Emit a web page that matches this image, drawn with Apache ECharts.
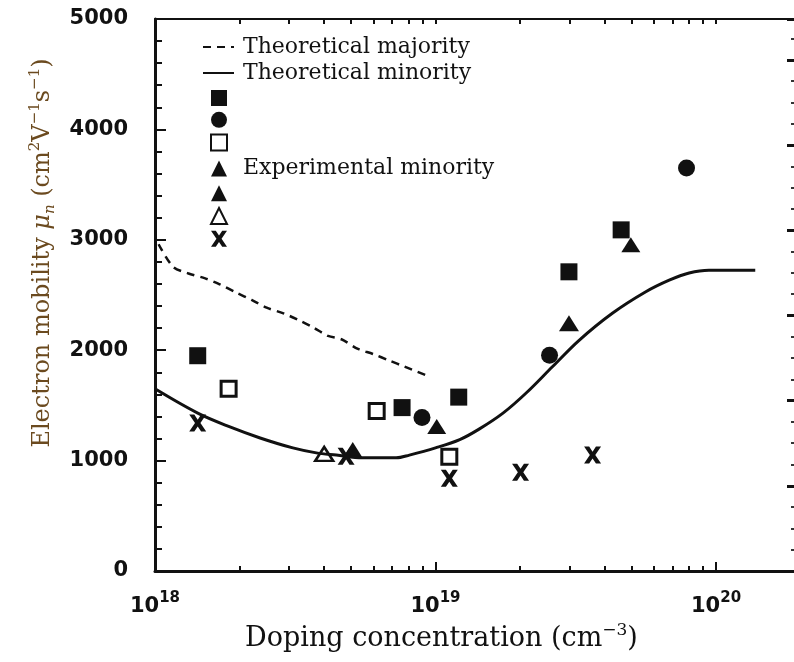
<!DOCTYPE html>
<html><head><meta charset="utf-8">
<script src="https://cdn.jsdelivr.net/npm/echarts@6/dist/echarts.min.js"></script>
<style>html,body{margin:0;padding:0;background:#fff}#c{width:794px;height:662px}</style>
</head><body><div id="c"></div>
<script>
// ---------- data (concentration in cm^-3, mobility in cm^2/Vs) ----------
const xTickExponents = [18, 19, 20];
const yTickLabels = [0, 1000, 2000, 3000, 4000, 5000];

const majorityConc = [1.03e18, 1.16e18, 1.31e18, 1.51e18, 1.70e18, 1.95e18, 2.21e18, 2.50e18, 2.87e18, 3.24e18, 3.66e18, 4.14e18, 4.62e18, 5.29e18, 5.98e18, 6.86e18, 7.76e18, 9.2e18];
const majorityMob  = [2960, 2755, 2697, 2651, 2597, 2521, 2455, 2385, 2334, 2274, 2207, 2129, 2099, 2011, 1966, 1905, 1851, 1775];

const minorityConc = [1.0e18, 1.42e18, 1.85e18, 2.37e18, 3.1e18, 3.76e18, 4.43e18, 5.49e18, 7.24e18, 8.07e18, 1.0e19, 1.22e19, 1.43e19, 1.74e19, 2.1e19, 2.61e19, 3.25e19, 4.27e19, 5.62e19, 6.81e19, 8.02e19, 9.44e19, 1.38e20];
const minorityMob  = [1650, 1430, 1305, 1205, 1115, 1070, 1050, 1025, 1025, 1050, 1115, 1190, 1285, 1430, 1610, 1850, 2090, 2335, 2530, 2635, 2700, 2725, 2725];

const sqFilledConc = [1.42e18, 7.6e18, 1.21e19, 2.99e19, 4.59e19];
const sqFilledMob  = [1950, 1480, 1575, 2710, 3090];
const circleConc   = [8.95e18, 2.55e19, 7.85e19];
const circleMob    = [1390, 1955, 3650];
const sqOpenConc   = [1.83e18, 6.17e18, 1.12e19];
const sqOpenMob    = [1650, 1450, 1035];
const triAConc     = [5.07e18, 2.99e19];
const triAMob      = [1095, 2245];
const triBConc     = [1.01e19, 4.97e19];
const triBMob      = [1310, 2955];
const triOpenConc  = [4.01e18];
const triOpenMob   = [1060];
const crossConc    = [1.42e18, 4.8e18, 1.12e19, 2.01e19, 3.63e19];
const crossMob     = [1340, 1040, 840, 895, 1050];

// ---------- helpers ----------
const L = v => Math.log10(v);
const pts = (xs, ys) => xs.map((x, i) => [L(x), ys[i]]);
const XMIN = 18, XMAX = 20.278;
const minorTickVals = [], allTickVals = [];
xTickExponents.forEach(n => {
  for (let k = 1; k <= 9; k++) {
    const v = n + Math.log10(k);
    if (v <= XMAX + 1e-9) { allTickVals.push(v); if (k > 1) minorTickVals.push(v); }
  }
});
const CROSS = 'path://M0,0 L3,0 L5,3 L7,0 L10,0 L6.6,5 L10,10 L7,10 L5,7 L3,10 L0,10 L3.4,5 Z';
const INK = '#111';
const BROWN = '#6b4a1f';
const serif = 'DejaVu Serif';
const sans = 'DejaVu Sans';

const chart = echarts.init(document.getElementById('c'), null, {renderer: 'canvas'});
const baseX = {
  type: 'value', min: XMIN, max: XMAX, gridIndex: 0,
  splitLine: {show: false}, axisLabel: {show: false}
};
chart.setOption({
  animation: false,
  backgroundColor: '#fff',
  grid: {left: 155, top: 19, width: 640, height: 552, containLabel: false},
  xAxis: [
    Object.assign({}, baseX, {
      position: 'bottom',
      axisLine: {show: true, lineStyle: {color: INK, width: 3}},
      axisTick: {show: true, inside: true, length: 5, customValues: minorTickVals, lineStyle: {color: INK, width: 2}},
      axisLabel: {
        show: true, margin: 20, customValues: xTickExponents,
        formatter: v => '{b|10}{s|' + Math.round(v) + '}',
        rich: {
          b: {fontFamily: sans, fontWeight: 'bold', fontSize: 21, lineHeight: 32, color: INK},
          s: {fontFamily: sans, fontWeight: 'bold', fontSize: 15, lineHeight: 10, verticalAlign: 'top', color: INK}
        }
      },
      name: '{t|Doping concentration (cm}{s|\u22123}{t|)}',
      nameLocation: 'middle', nameGap: 50,
      nameTextStyle: {
        padding: [0, 66, 0, 0],
        rich: {
          t: {fontFamily: serif, fontSize: 27, lineHeight: 34, color: INK},
          s: {fontFamily: serif, fontSize: 17, lineHeight: 14, verticalAlign: 'top', color: INK}
        }
      }
    }),
    Object.assign({}, baseX, {
      position: 'bottom',
      axisLine: {show: false},
      axisTick: {show: true, inside: true, length: 9, customValues: xTickExponents, lineStyle: {color: INK, width: 2}}
    }),
    Object.assign({}, baseX, {
      position: 'top',
      axisLine: {show: true, lineStyle: {color: INK, width: 2}},
      axisTick: {show: true, inside: true, length: 5, customValues: allTickVals, lineStyle: {color: INK, width: 2}}
    })
  ],
  yAxis: [
    {
      type: 'value', min: yTickLabels[0], max: yTickLabels[yTickLabels.length - 1], interval: 1000,
      position: 'left',
      axisLine: {show: true, lineStyle: {color: INK, width: 3}},
      axisTick: {show: true, inside: true, length: 11, lineStyle: {color: INK, width: 2}},
      minorTick: {show: true, splitNumber: 5, length: 7, lineStyle: {color: INK, width: 2}},
      splitLine: {show: false},
      axisLabel: {margin: 27, fontFamily: sans, fontWeight: 'bold', fontSize: 21, color: INK, formatter: v => String(v)},
      name: '{t|Electron mobility }{i|\u03bc}{u|n}{t| (cm}{s|2}{t|V}{s|\u22121}{t|s}{s|\u22121}{t|)}',
      nameLocation: 'middle', nameRotate: 90, nameGap: 97,
      nameTextStyle: {
        padding: [0, 0, 0, 84],
        rich: {
          t: {fontFamily: serif, fontSize: 24, lineHeight: 30, color: BROWN},
          i: {fontFamily: serif, fontStyle: 'italic', fontSize: 24, lineHeight: 30, color: BROWN},
          u: {fontFamily: serif, fontStyle: 'italic', fontSize: 15, lineHeight: 12, verticalAlign: 'bottom', color: BROWN},
          s: {fontFamily: serif, fontSize: 15, lineHeight: 12, verticalAlign: 'top', color: BROWN}
        }
      }
    },
    {
      type: 'value', min: 0, max: 6.479, interval: 1, position: 'right',
      axisLine: {show: false},
      axisTick: {show: true, inside: true, length: 7, lineStyle: {color: INK, width: 3}},
      minorTick: {show: true, splitNumber: 4, length: 3, lineStyle: {color: '#333', width: 2}},
      splitLine: {show: false},
      axisLabel: {show: false}
    }
  ],
  legend: [
    {
      data: ['Theoretical majority', 'Theoretical minority'],
      orient: 'vertical', left: 197, top: 30, itemWidth: 31, itemHeight: 14, itemGap: 2,
      selectedMode: false,
      itemStyle: {color: 'rgba(0,0,0,0)', borderWidth: 0, opacity: 0},
      textStyle: {fontFamily: serif, fontSize: 22, lineHeight: 24, color: INK, padding: [0, 0, 0, 4]}
    },
    {
      data: ['Exp. A', 'Exp. B', 'Exp. C', 'Experimental minority', 'Exp. E', 'Exp. F', 'Exp. G'],
      orient: 'vertical', left: 205, top: 85, itemWidth: 16, itemHeight: 16, itemGap: 5.8,
      selectedMode: false,
      formatter: n => n === 'Experimental minority' ? n : '',
      textStyle: {fontFamily: serif, fontSize: 22, lineHeight: 16, color: INK, padding: [4, 0, 0, 11]}
    }
  ],
  series: [
    {name: 'Theoretical majority', type: 'line', xAxisIndex: 0, yAxisIndex: 0, data: pts(majorityConc, majorityMob),
     symbol: 'none', smooth: 0.3, lineStyle: {color: INK, width: 2.5, type: [8, 6]}, itemStyle: {color: INK}},
    {name: 'Theoretical minority', type: 'line', xAxisIndex: 0, yAxisIndex: 0, data: pts(minorityConc, minorityMob),
     symbol: 'none', smooth: 0.35, lineStyle: {color: INK, width: 3}, itemStyle: {color: INK}},
    {name: 'Exp. A', type: 'scatter', data: pts(sqFilledConc, sqFilledMob), symbol: 'rect', symbolSize: 17,
     itemStyle: {color: INK, opacity: 1}},
    {name: 'Exp. B', type: 'scatter', data: pts(circleConc, circleMob), symbol: 'circle', symbolSize: 17,
     itemStyle: {color: INK, opacity: 1}},
    {name: 'Exp. C', type: 'scatter', data: pts(sqOpenConc, sqOpenMob), symbol: 'rect', symbolSize: 15,
     itemStyle: {color: '#fff', borderColor: INK, borderWidth: 3, opacity: 1}},
    {name: 'Experimental minority', type: 'scatter', data: pts(triAConc, triAMob), symbol: 'triangle', symbolSize: [20, 16],
     itemStyle: {color: INK, opacity: 1}},
    {name: 'Exp. E', type: 'scatter', data: pts(triBConc, triBMob), symbol: 'triangle', symbolSize: [19, 15],
     itemStyle: {color: INK, opacity: 1}},
    {name: 'Exp. F', type: 'scatter', data: pts(triOpenConc, triOpenMob), symbol: 'triangle', symbolSize: [18, 14],
     itemStyle: {color: '#fff', borderColor: INK, borderWidth: 2.5, opacity: 1}},
    {name: 'Exp. G', type: 'scatter', data: pts(crossConc, crossMob), symbol: CROSS, symbolSize: 17,
     itemStyle: {color: INK, opacity: 1}}
  ]
});
</script></body></html>
